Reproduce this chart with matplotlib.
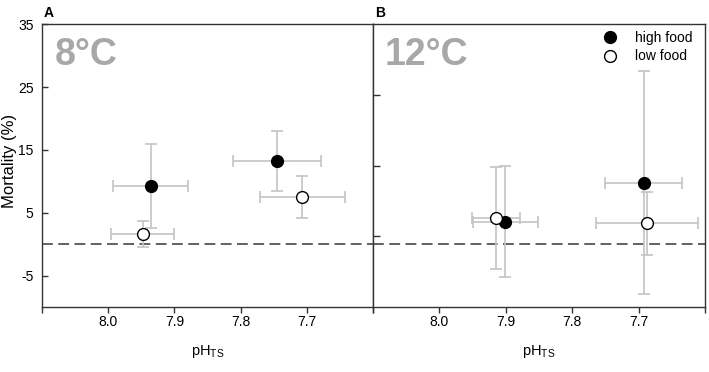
import matplotlib
matplotlib.use("Agg")
import matplotlib.pyplot as plt
from matplotlib.lines import Line2D

plt.rcParams['font.family'] = ['Liberation Sans', 'DejaVu Sans']

# ---- data ----
panels = ["A", "B"]
temps = ["8°C", "12°C"]
# panel A (8°C)
hi_A_x = [7.936, 7.745]
hi_A_y = [9.3, 13.2]
hi_A_xerr = [0.056, 0.066]
hi_A_yerr = [6.7, 4.8]
lo_A_x = [7.948, 7.707]
lo_A_y = [1.6, 7.5]
lo_A_xerr = [0.048, 0.064]
lo_A_yerr = [2.1, 3.3]
# panel B (12°C)
hi_B_x = [7.901, 7.692]
hi_B_y = [3.6, 9.8]
hi_B_xerr = [0.049, 0.058]
hi_B_yerr = [8.9, 17.7]
lo_B_x = [7.915, 7.687]
lo_B_y = [4.2, 3.3]
lo_B_xerr = [0.036, 0.077]
lo_B_yerr = [8.1, 5.0]

xticks = [8.1, 8.0, 7.9, 7.8, 7.7, 7.6]
xticklabels = ["", "8.0", "7.9", "7.8", "7.7", ""]
yticks = [-5, 5, 15, 25, 35]
yticks_B = [1.3, 12.5, 23.7]

fig = plt.figure(figsize=(7.09, 3.72), dpi=100)
bottom = 1 - 307 / 372
top = 1 - 24.3 / 372
axA = fig.add_axes([42 / 709, bottom, (373 - 42) / 709, top - bottom])
axB = fig.add_axes([373 / 709, bottom, (705 - 373) / 709, top - bottom])

spine_col = "#333333"
err_col = "#c4c4c4"

data = [
    (axA, hi_A_x, hi_A_y, hi_A_xerr, hi_A_yerr, lo_A_x, lo_A_y, lo_A_xerr, lo_A_yerr),
    (axB, hi_B_x, hi_B_y, hi_B_xerr, hi_B_yerr, lo_B_x, lo_B_y, lo_B_xerr, lo_B_yerr),
]
temp_x = [(55 - 42) / 331, (385 - 373) / 332]

for i, (ax, hx, hy, hxe, hye, lx, ly, lxe, lye) in enumerate(data):
    ax.set_xlim(8.1, 7.6)
    ax.set_ylim(-10, 35)
    ax.axhline(0, color="#555555", lw=1.3, ls=(0, (6, 3)), zorder=1)
    for xs, ys, xe, ye, fc in [(hx, hy, hxe, hye, "black"), (lx, ly, lxe, lye, "white")]:
        ax.errorbar(xs, ys, xerr=xe, yerr=ye, fmt="none", ecolor=err_col,
                    elinewidth=1.2, capsize=4, capthick=1.2, zorder=2)
        ax.plot(xs, ys, "o", ms=8.5, mfc=fc, mec="black", mew=1.0, zorder=3, ls="none")
    for s in ax.spines.values():
        s.set_color(spine_col)
        s.set_linewidth(1.0)
    ax.set_xticks(xticks)
    ax.set_xticklabels(xticklabels, fontsize=10)
    ax.tick_params(axis="x", direction="out", length=4, width=1, color=spine_col, pad=2)
    ax.set_xlabel("pH$_{\\mathregular{TS}}$", fontsize=10.5)
    ax.xaxis.set_label_coords(0.5, (307 - 343) / 282.7)
    ax.text(temp_x[i], (307 - 65) / 282.7, temps[i], transform=ax.transAxes, fontsize=27,
            fontweight="bold", color="#a8a8a8", va="baseline", ha="left")
    ax.text(0.005, 1.015, panels[i], transform=ax.transAxes, fontsize=10,
            fontweight="bold", va="bottom", ha="left")

axA.set_yticks(yticks)
axA.set_yticklabels([str(v) for v in yticks], fontsize=10)
axA.tick_params(axis="y", direction="in", length=4, width=1, color=spine_col, pad=6)
axA.set_ylabel("Mortality (%)", fontsize=12)
axA.yaxis.set_label_coords((17 - 42) / 331, (307 - 161) / 282.7)

axB.set_yticks(yticks_B)
axB.set_yticklabels([])
axB.tick_params(axis="y", direction="in", length=5, width=1, color=spine_col)

handles = [
    Line2D([], [], marker="o", ls="none", ms=8.5, mfc="black", mec="black", label="high food"),
    Line2D([], [], marker="o", ls="none", ms=8.5, mfc="white", mec="black", label="low food"),
]
axB.legend(handles=handles, loc="upper right", frameon=False, fontsize=10,
           handletextpad=0.8, labelspacing=0.3, borderaxespad=0.1,
           bbox_to_anchor=(1.0 - 6 / 332, 1.0))

fig.savefig("out.png", dpi=100)
